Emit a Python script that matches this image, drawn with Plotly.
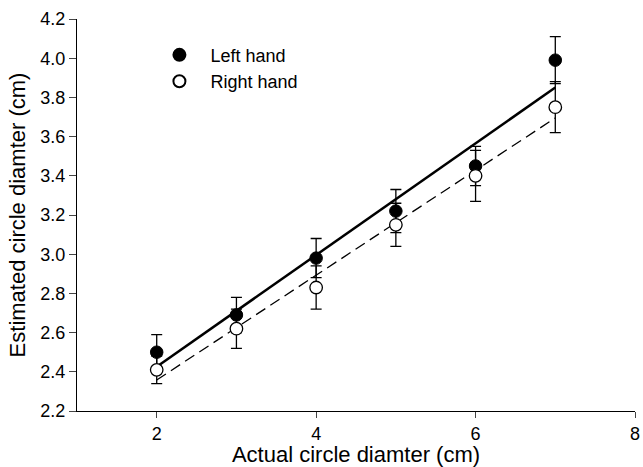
import numpy as np
import plotly.graph_objects as go

x_vals = [2, 3, 4, 5, 6, 7]
left_y = [2.50, 2.69, 2.98, 3.22, 3.45, 3.99]
left_err = [0.09, 0.09, 0.10, 0.11, 0.10, 0.12]
right_y = [2.41, 2.62, 2.83, 3.15, 3.40, 3.75]
right_err = [0.07, 0.10, 0.11, 0.11, 0.13, 0.13]
x_ticks = [2, 4, 6, 8]
y_ticks = [2.2, 2.4, 2.6, 2.8, 3.0, 3.2, 3.4, 3.6, 3.8, 4.0, 4.2]

def fit(xs, ys):
    m, b = np.polyfit(xs, ys, 1)
    xe = [min(xs), max(xs)]
    return xe, [m * v + b for v in xe]

fig = go.Figure()
lx, ly = fit(x_vals, left_y)
rx, ry = fit(x_vals, right_y)
fig.add_trace(go.Scatter(x=lx, y=ly, mode="lines", line=dict(color="black", width=2.5), showlegend=False))
fig.add_trace(go.Scatter(x=rx, y=ry, mode="lines", line=dict(color="black", width=1.3, dash="11px,6px"), showlegend=False))
fig.add_trace(go.Scatter(x=x_vals, y=left_y, mode="markers", name="Left hand",
                         marker=dict(symbol="circle", size=12.5, color="black", line=dict(color="black", width=1)),
                         error_y=dict(type="data", array=left_err, color="black", thickness=1.3, width=5.5)))
fig.add_trace(go.Scatter(x=x_vals, y=right_y, mode="markers", name="Right hand",
                         marker=dict(symbol="circle", size=12.5, color="white", line=dict(color="black", width=1.3)),
                         error_y=dict(type="data", array=right_err, color="black", thickness=1.3, width=5.5)))

font = dict(family="Liberation Sans, Arial, sans-serif", size=18, color="black")
fig.update_layout(
    width=643, height=467,
    margin=dict(l=77, r=8, t=19, b=56, autoexpand=False),
    plot_bgcolor="white", paper_bgcolor="white",
    font=font,
    showlegend=True,
    legend=dict(x=0.128, y=0.955, xanchor="left", yanchor="top", bgcolor="rgba(0,0,0,0)",
                font=font, tracegroupgap=0, itemsizing="constant", itemwidth=52),
    xaxis=dict(range=[1, 8], tickvals=x_ticks, ticks="outside", ticklen=6, tickwidth=1.2, automargin=False,
               showline=True, linecolor="black", linewidth=1.3, showgrid=False, zeroline=False,
               title=dict(text="Actual circle diamter (cm)", standoff=6), tickfont=font),
    yaxis=dict(range=[2.2, 4.2], tickvals=y_ticks, tickformat=".1f", ticks="outside", ticklen=7, tickwidth=1.2,
               automargin=False,
               showline=True, linecolor="black", linewidth=1.3, showgrid=False, zeroline=False,
               title=dict(text="Estimated circle diamter (cm)", standoff=8), tickfont=font),
)
fig.write_html("out.html")
